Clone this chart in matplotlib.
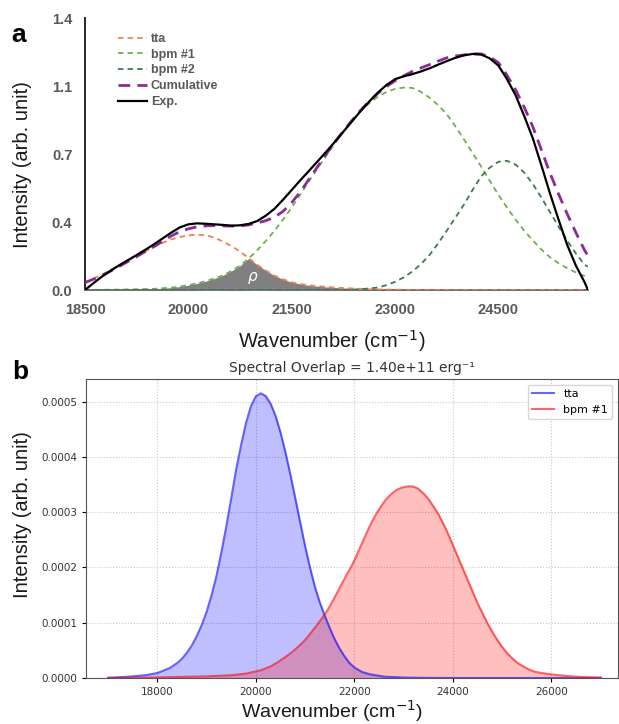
import matplotlib
matplotlib.use('Agg')
import matplotlib.pyplot as plt
import numpy as np
from matplotlib.ticker import FormatStrFormatter

# ---------------- Panel a data ----------------
wn_a = [18500, 18625, 18750, 18875, 19000, 19125, 19250, 19375, 19500, 19625,
        19750, 19875, 20000, 20125, 20250, 20375, 20500, 20625, 20750, 20875,
        21000, 21125, 21250, 21375, 21500, 21625, 21750, 21875, 22000, 22125,
        22250, 22375, 22500, 22625, 22750, 22875, 23000, 23125, 23250, 23375,
        23500, 23625, 23750, 23875, 24000, 24125, 24250, 24375, 24500, 24625,
        24750, 24875, 25000, 25125, 25250, 25375, 25500, 25625, 25750, 25800]
tta_a = [0.038, 0.059, 0.080, 0.104, 0.128, 0.152, 0.175, 0.199, 0.222, 0.243,
         0.260, 0.273, 0.281, 0.285, 0.282, 0.270, 0.250, 0.226, 0.198, 0.164,
         0.130, 0.100, 0.074, 0.055, 0.040, 0.031, 0.024, 0.020, 0.016, 0.013,
         0.010, 0.008, 0.006, 0.004, 0.003, 0.0025, 0.002, 0.0015, 0.001, 0.001,
         0.001, 0.0005, 0.0, 0.0, 0.0, 0.0, 0.0, 0.0, 0.0, 0.0,
         0.0, 0.0, 0.0, 0.0, 0.0, 0.0, 0.0, 0.0, 0.0, 0.0]
bpm1_a = [0.0, 0.0005, 0.001, 0.0015, 0.002, 0.003, 0.004, 0.005, 0.006, 0.009,
          0.012, 0.018, 0.025, 0.034, 0.045, 0.059, 0.075, 0.098, 0.125, 0.162,
          0.205, 0.253, 0.305, 0.363, 0.425, 0.492, 0.560, 0.626, 0.690, 0.755,
          0.815, 0.870, 0.920, 0.961, 0.995, 1.019, 1.035, 1.042, 1.040, 1.020,
          0.990, 0.952, 0.905, 0.843, 0.775, 0.705, 0.635, 0.562, 0.490, 0.424,
          0.362, 0.305, 0.255, 0.208, 0.168, 0.137, 0.112, 0.090, 0.072, 0.066]
bpm2_a = [0.0, 0.0, 0.0, 0.0, 0.0, 0.0, 0.0, 0.0, 0.0, 0.0,
          0.0, 0.0, 0.0, 0.0, 0.0, 0.0, 0.0, 0.0, 0.0, 0.0,
          0.0, 0.0, 0.0, 0.0, 0.0, 0.0, 0.0, 0.0, 0.0, 0.0005,
          0.001, 0.002, 0.004, 0.008, 0.013, 0.025, 0.042, 0.065, 0.095, 0.133,
          0.180, 0.240, 0.305, 0.372, 0.440, 0.515, 0.585, 0.630, 0.660, 0.665,
          0.645, 0.604, 0.545, 0.475, 0.400, 0.325, 0.252, 0.188, 0.130, 0.120]
cum_a = [0.038, 0.056, 0.075, 0.098, 0.122, 0.147, 0.172, 0.198, 0.223, 0.250,
         0.278, 0.300, 0.315, 0.325, 0.330, 0.332, 0.330, 0.329, 0.330, 0.335,
         0.345, 0.357, 0.375, 0.405, 0.450, 0.505, 0.570, 0.635, 0.700, 0.760,
         0.818, 0.873, 0.925, 0.972, 1.012, 1.047, 1.077, 1.102, 1.125, 1.143,
         1.160, 1.178, 1.195, 1.204, 1.210, 1.216, 1.215, 1.200, 1.170, 1.105,
         1.030, 0.940, 0.840, 0.720, 0.600, 0.492, 0.390, 0.295, 0.205, 0.175]
exp_a = [0.0, 0.036, 0.070, 0.100, 0.128, 0.154, 0.180, 0.207, 0.235, 0.265,
         0.295, 0.322, 0.338, 0.343, 0.341, 0.338, 0.335, 0.331, 0.333, 0.340,
         0.355, 0.383, 0.418, 0.465, 0.515, 0.565, 0.613, 0.662, 0.711, 0.762,
         0.815, 0.868, 0.921, 0.970, 1.016, 1.055, 1.085, 1.100, 1.111, 1.125,
         1.141, 1.160, 1.178, 1.195, 1.208, 1.215, 1.212, 1.192, 1.155, 1.085,
         1.002, 0.895, 0.780, 0.640, 0.495, 0.360, 0.230, 0.125, 0.040, 0.0]
xticks_a = [18500, 20000, 21500, 23000, 24500]
yticks_a = [0.0, 0.35, 0.70, 1.05, 1.40]
yticklabels_a = ['0.0', '0.4', '0.7', '1.1', '1.4']
legend_a = ['tta', 'bpm #1', 'bpm #2', 'Cumulative', 'Exp.']

# ---------------- Panel b data ----------------
wn_tta_b = [17000, 17250, 17500, 17750, 18000, 18250, 18400, 18500, 18600, 18700,
            18800, 18900, 19000, 19100, 19200, 19300, 19400, 19500, 19600, 19700,
            19800, 19900, 20000, 20100, 20200, 20300, 20400, 20500, 20600, 20700,
            20800, 20900, 21000, 21100, 21200, 21300, 21400, 21500, 21600, 21700,
            21800, 21900, 22000, 22150, 22300, 22600, 23000, 23500, 24000, 25000,
            26000, 27000]
tta_b = [0.0000005, 0.0000015, 0.000003, 0.000005, 0.000009, 0.000018, 0.000027,
         0.000035, 0.000046, 0.000059, 0.000076, 0.000096, 0.000120, 0.000150,
         0.000185, 0.000228, 0.000275, 0.000326, 0.000378, 0.000422, 0.000462,
         0.000492, 0.000510, 0.000515, 0.000510, 0.000496, 0.000474, 0.000444,
         0.000408, 0.000368, 0.000325, 0.000281, 0.000238, 0.000199, 0.000164,
         0.000136, 0.000112, 0.000090, 0.000070, 0.000053, 0.000039, 0.000027,
         0.000019, 0.000011, 0.000007, 0.0000025, 0.0000008, 0.0000002, 0.0,
         0.0, 0.0, 0.0]
wn_bpm_b = [17000, 17500, 18000, 18500, 19000, 19500, 19800, 20100, 20300, 20450,
            20600, 20750, 20900, 21000, 21100, 21250, 21350, 21450, 21575, 21700,
            21825, 21950, 22050, 22150, 22250, 22350, 22450, 22550, 22650, 22750,
            22850, 22950, 23040, 23120, 23210, 23300, 23400, 23500, 23600, 23700,
            23800, 23900, 24000, 24100, 24200, 24300, 24400, 24500, 24600, 24700,
            24800, 24900, 25000, 25100, 25200, 25300, 25425, 25550, 25675, 25800,
            26000, 26200, 26400, 26700, 27000]
bpm_b = [0.0, 0.0000005, 0.000001, 0.000002, 0.000003, 0.000005, 0.000008,
         0.000014, 0.000021, 0.000029, 0.000038, 0.000048, 0.000060, 0.000069,
         0.000080, 0.000097, 0.000109, 0.000122, 0.000142, 0.000163, 0.000184,
         0.000204, 0.000223, 0.000243, 0.000263, 0.000282, 0.000298, 0.000312,
         0.000324, 0.000333, 0.000340, 0.000344, 0.000346, 0.000347, 0.000346,
         0.000342, 0.000334, 0.000324, 0.000311, 0.000297, 0.000280, 0.000261,
         0.000240, 0.000219, 0.000198, 0.000177, 0.000156, 0.000135, 0.000117,
         0.000099, 0.000083, 0.000069, 0.000056, 0.000045, 0.000036, 0.000028,
         0.000021, 0.000015, 0.000011, 0.000009, 0.0000065, 0.0000045, 0.000003,
         0.0000015, 0.000001]
xticks_b = [18000, 20000, 22000, 24000, 26000]
yticks_b = [0.0, 0.0001, 0.0002, 0.0003, 0.0004, 0.0005]
title_b = 'Spectral Overlap = 1.40e+11 erg\u207b\u00b9'

W, H = 619, 724
fig = plt.figure(figsize=(W / 100, H / 100), dpi=100)

def rect(l, t, r, b):
    return [l / W, 1 - b / H, (r - l) / W, (b - t) / H]

LAB = 'Liberation Sans'
GRAY = '#595959'

# ---------------- Panel a ----------------
axa = fig.add_axes(rect(85, 18, 588, 290))
axa.fill_between(wn_a, 0, np.minimum(tta_a, bpm1_a), color='#808080', lw=0, zorder=1)
axa.plot(wn_a, tta_a, color='#EE8350', lw=1.3, ls=(0, (3, 2.3)), label=legend_a[0], zorder=3)
axa.plot(wn_a, bpm1_a, color='#6DB04F', lw=1.3, ls=(0, (3, 2.3)), label=legend_a[1], zorder=3)
axa.plot(wn_a, bpm2_a, color='#3B7D4C', lw=1.3, ls=(0, (3, 2.3)), label=legend_a[2], zorder=3)
axa.plot(wn_a, cum_a, color='#8E2A95', lw=2.0, ls=(0, (4.2, 2.6)), label=legend_a[3], zorder=4)
axa.plot(wn_a, exp_a, color='black', lw=1.6, label=legend_a[4], zorder=5)
axa.text(20936, 0.067, '\u03c1', color='white', fontsize=11, style='italic',
         ha='center', va='center', zorder=6)
axa.set_xlim(18500, 25800)
axa.set_ylim(0, 1.4)
axa.set_xticks(xticks_a)
axa.set_xticklabels([str(v) for v in xticks_a])
axa.set_yticks(yticks_a)
axa.set_yticklabels(yticklabels_a)
for s in ['top', 'right']:
    axa.spines[s].set_visible(False)
axa.spines['left'].set_color('#262626')
axa.spines['left'].set_linewidth(1.4)
axa.spines['bottom'].set_color('#707070')
axa.spines['bottom'].set_linewidth(1.4)
axa.tick_params(length=0, pad=9, labelsize=10.5, labelcolor=GRAY)
for lab in axa.get_xticklabels() + axa.get_yticklabels():
    lab.set_fontfamily(LAB)
    lab.set_fontweight('bold')
leg = axa.legend(loc='upper left', bbox_to_anchor=(0.066, 0.945), frameon=False,
                 borderpad=0, borderaxespad=0, handlelength=2.3, handletextpad=0.3,
                 labelspacing=0.3, prop={'family': LAB, 'weight': 'bold', 'size': 9})
for t in leg.get_texts():
    t.set_color(GRAY)

# ---------------- Panel b ----------------
axb = fig.add_axes(rect(86, 379, 618, 678))
axb.plot(wn_tta_b, tta_b, color='blue', alpha=0.6, lw=1.5, label='tta')
axb.fill_between(wn_tta_b, tta_b, color='blue', alpha=0.25, lw=0)
axb.plot(wn_bpm_b, bpm_b, color='red', alpha=0.6, lw=1.5, label='bpm #1')
axb.fill_between(wn_bpm_b, bpm_b, color='red', alpha=0.25, lw=0)
axb.set_xlim(16550, 27350)
axb.set_ylim(0, 0.000541)
axb.set_xticks(xticks_b)
axb.set_yticks(yticks_b)
axb.yaxis.set_major_formatter(FormatStrFormatter('%.4f'))
axb.tick_params(labelsize=7.5, labelcolor='#333333', length=3)
axb.grid(True, ls=':', color='#c8c8c8', lw=0.8)
axb.set_axisbelow(True)
for s in axb.spines.values():
    s.set_color('#555555')
axb.set_title(title_b, fontsize=10, color='#333333', pad=5)
axb.legend(loc='upper right', fontsize=8)

# ---------------- Labels ----------------
fig.text(23 / W, 1 - 165 / H, 'Intensity (arb. unit)', rotation=90, ha='center', va='center',
         fontsize=14.5, family=LAB, color='#1a1a1a')
fig.text(332 / W, 1 - 341 / H, 'Wavenumber (cm$^{-1}$)', ha='center', va='center',
         fontsize=14.5, family=LAB, color='#1a1a1a')
fig.text(23 / W, 1 - 515 / H, 'Intensity (arb. unit)', rotation=90, ha='center', va='center',
         fontsize=14.5, family=LAB, color='#1a1a1a')
fig.text(332 / W, 1 - 711 / H, 'Wavenumber (cm$^{-1}$)', ha='center', va='center',
         fontsize=14, family=LAB, color='#1a1a1a')
fig.text(19 / W, 1 - 35 / H, 'a', ha='center', va='center', fontsize=19,
         fontweight='bold', family=LAB)
fig.text(20 / W, 1 - 372 / H, 'b', ha='center', va='center', fontsize=19,
         fontweight='bold', family=LAB)

fig.savefig('out.png', dpi=100)
